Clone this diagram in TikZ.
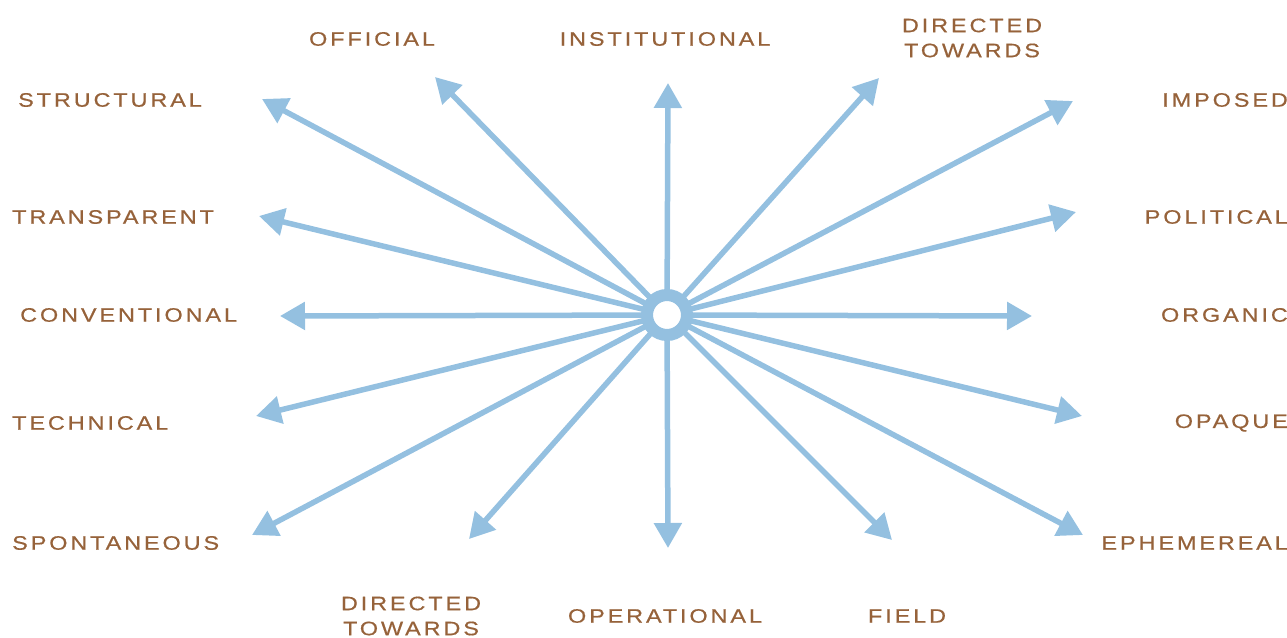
\documentclass[tikz,border=0pt]{standalone}
\usepackage{fontspec}
\newfontfamily\rayfont[FakeStretch=1.2,LetterSpace=15,FakeBold=0.6]{Liberation Sans}
\usetikzlibrary{arrows.meta}
\definecolor{raybl}{RGB}{148,192,224}
\definecolor{labbr}{RGB}{150,98,58}
\tikzset{ray/.style={draw=raybl,line width=5.5pt,-{Triangle[length=25pt,width=27pt]}},
  ring/.style={draw=raybl,line width=12pt,fill=white},
  lab/.style={text=labbr,inner sep=0pt,align=center,font=\rayfont\fontsize{19.5}{25}\selectfont}}
\begin{document}
\begin{tikzpicture}[x=1pt,y=-1pt]
\useasboundingbox (0,0) rectangle (1287,637);
\coordinate (hub) at (667,315);
\coordinate (tInst) at (668,83);
\coordinate (tOffi) at (435,77);
\coordinate (tStru) at (262,99);
\coordinate (tTran) at (259,216);
\coordinate (tConv) at (280,316);
\coordinate (tTech) at (256,416);
\coordinate (tSpon) at (252,535);
\coordinate (tDirB) at (469,539);
\coordinate (tOper) at (668,548);
\coordinate (tFiel) at (892,540);
\coordinate (tEphe) at (1083,535);
\coordinate (tOpaq) at (1082,416);
\coordinate (tOrga) at (1032,316);
\coordinate (tPoli) at (1076,212);
\coordinate (tImpo) at (1073,101);
\coordinate (tDirT) at (879,78);
\foreach \t in {tInst,tOffi,tStru,tTran,tConv,tTech,tSpon,tDirB,tOper,tFiel,tEphe,tOpaq,tOrga,tPoli,tImpo,tDirT}
  \draw [ray] (hub) -- (\t);
\draw [ring] (hub) circle [radius=20pt];
\node [lab] (lOffi) at (372,39) {OFFICIAL};
\node [lab] (lInst) at (665,39) {INSTITUTIONAL};
\node [lab] (lDirT) at (972,38) {DIRECTED\\TOWARDS};
\node [lab,anchor=west] (lStru) at (18,100) {STRUCTURAL};
\node [lab,anchor=west] (lTran) at (12,217) {TRANSPARENT};
\node [lab,anchor=west] (lConv) at (20,315) {CONVENTIONAL};
\node [lab,anchor=west] (lTech) at (12,423) {TECHNICAL};
\node [lab,anchor=west] (lSpon) at (12,543) {SPONTANEOUS};
\node [lab,anchor=east] (lImpo) at (1288,100) {IMPOSED};
\node [lab,anchor=east] (lPoli) at (1288,217) {POLITICAL};
\node [lab,anchor=east] (lOrga) at (1288,315) {ORGANIC};
\node [lab,anchor=east] (lOpaq) at (1288,423) {OPAQUE};
\node [lab,anchor=east] (lEphe) at (1288,543) {EPHEMEREAL};
\node [lab] (lDirB) at (411,616) {DIRECTED\\TOWARDS};
\node [lab] (lOper) at (665,616) {OPERATIONAL};
\node [lab] (lFiel) at (907,616) {FIELD};
\end{tikzpicture}
\end{document}
